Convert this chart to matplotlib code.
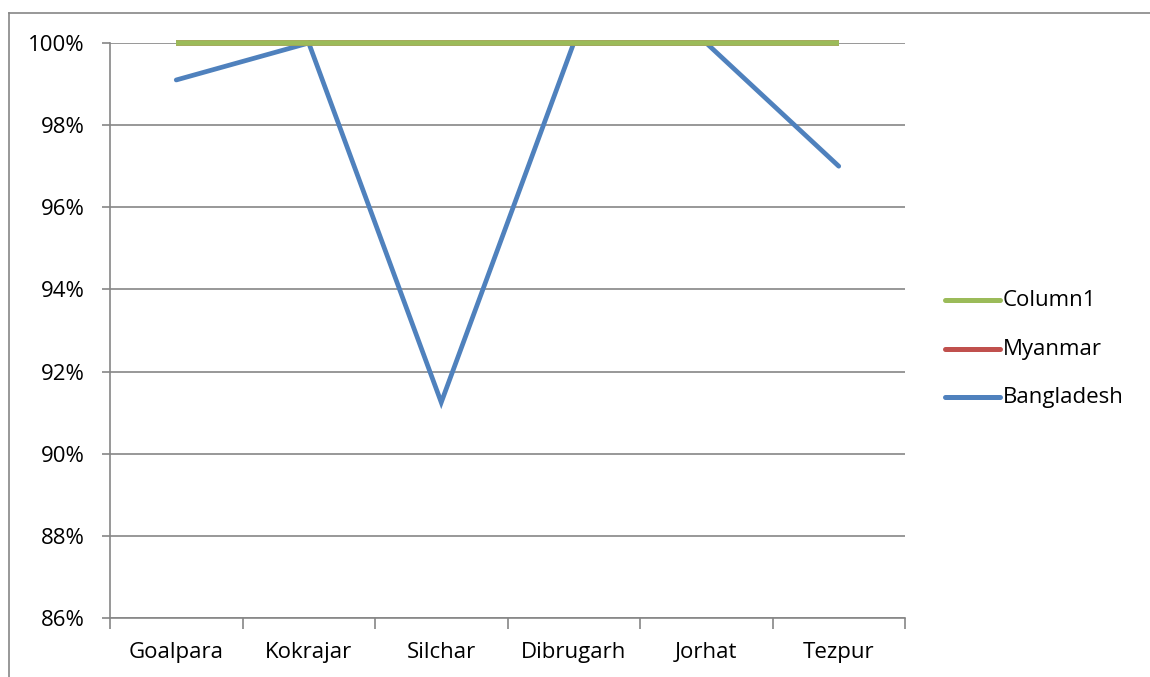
import matplotlib
matplotlib.use("Agg")
import matplotlib.pyplot as plt
from matplotlib.lines import Line2D
from matplotlib.ticker import FuncFormatter

categories = ["Goalpara", "Kokrajar", "Silchar", "Dibrugarh", "Jorhat", "Tezpur"]
column1 = [100, 100, 100, 100, 100, 100]
myanmar = [100, 100, 100, 100, 100, 100]
bangladesh = [99.1, 100, 91.25, 100, 100, 97.0]
y_ticks = [86, 88, 90, 92, 94, 96, 98, 100]

GREEN = "#9BBB59"
RED = "#C0504D"
BLUE = "#4F81BD"
GRID = "#868686"
FONT = ["Open Sans", "DejaVu Sans"]
FS = 16

W, H = 1150, 677
fig = plt.figure(figsize=(W / 100, H / 100), dpi=100)
plt.rcParams['font.family'] = FONT

L, R, T, B = 110, 905, 43, 618
ax = fig.add_axes([L / W, 1 - B / H, (R - L) / W, (B - T) / H])

x = list(range(len(categories)))
ax.plot(x, bangladesh, color=BLUE, lw=3.4, solid_capstyle="round", solid_joinstyle="miter",
        zorder=3, clip_on=False)
ax.plot(x, myanmar, color=RED, lw=4.0, solid_capstyle="butt", zorder=4, clip_on=False)
ax.plot(x, column1, color=GREEN, lw=4.0, solid_capstyle="butt", zorder=5, clip_on=False)

ax.set_xlim(-0.5, len(categories) - 0.5)
ax.set_ylim(86, 100)
ax.set_yticks(y_ticks)
ax.yaxis.set_major_formatter(FuncFormatter(lambda v, p: f"{v:.0f}%"))
ax.set_xticks(x)
ax.set_xticklabels(categories)
ax.set_xticks([i - 0.5 for i in range(len(categories) + 1)], minor=True)

ax.grid(axis="y", color=GRID, lw=1.2, zorder=1)
ax.set_axisbelow(True)
for s in ["top", "right"]:
    ax.spines[s].set_visible(False)
for s in ["left", "bottom"]:
    ax.spines[s].set_color(GRID)
    ax.spines[s].set_linewidth(1.2)

ax.tick_params(axis="y", which="major", length=6, width=1.2, color=GRID, labelsize=FS, pad=12)
ax.tick_params(axis="x", which="major", length=0, labelsize=FS, pad=17)
ax.tick_params(axis="x", which="minor", length=8, width=1.2, color=GRID)

# Legend
labels = ["Column1", "Myanmar", "Bangladesh"]
colors = [GREEN, RED, BLUE]
rows = [300, 349, 397]
for lab, c, yy in zip(labels, colors, rows):
    fig.add_artist(Line2D([945 / W, 1000 / W], [1 - yy / H, 1 - yy / H], color=c, lw=3.6,
                          solid_capstyle="round", transform=fig.transFigure))
    fig.text(1003 / W, 1 - yy / H, lab, fontsize=FS, va="center", ha="left")

# Outer chart border (left and top visible)
fig.add_artist(Line2D([8.5 / W, 8.5 / W], [0, 1 - 13 / H], color=GRID, lw=1.2, transform=fig.transFigure))
fig.add_artist(Line2D([8.5 / W, 1], [1 - 13 / H, 1 - 13 / H], color=GRID, lw=1.2, transform=fig.transFigure))

fig.savefig("out.png", dpi=100)
